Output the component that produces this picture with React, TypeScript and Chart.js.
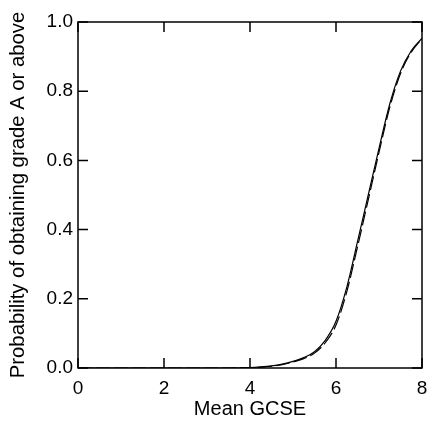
import React, { useEffect, useRef } from "react";
import { Chart, registerables } from "chart.js";

Chart.register(...registerables);

const xValues = [0, 1, 2, 3, 3.5, 4, 4.25, 4.5, 4.75, 5, 5.25, 5.5, 5.75, 6, 6.25, 6.5, 6.75, 7, 7.25, 7.5, 7.75, 8];
const solidSeries = [0, 0, 0, 0, 0, 0.001, 0.003, 0.006, 0.011, 0.019, 0.03, 0.047, 0.08, 0.135, 0.233, 0.365, 0.5, 0.635, 0.763, 0.858, 0.917, 0.953];
const dashedSeries = [0, 0, 0, 0, 0, 0.001, 0.002, 0.005, 0.01, 0.017, 0.027, 0.043, 0.073, 0.124, 0.22, 0.35, 0.486, 0.623, 0.753, 0.851, 0.913, 0.952];
const xTicks = [0, 2, 4, 6, 8];
const yTicks = [0, 0.2, 0.4, 0.6, 0.8, 1.0];
const xTitle = "Mean GCSE";
const yTitle = "Probability of obtaining grade A or above";

const FONT = "'Liberation Sans', Arial, Helvetica, sans-serif";

const frameTicks = {
  id: "frameTicks",
  afterDatasetsDraw(chart: any) {
    const { ctx, chartArea: a, scales } = chart;
    const xs = scales.x;
    const ys = scales.y;
    const len = 10;
    ctx.save();
    ctx.strokeStyle = "#000";
    ctx.lineWidth = 1.5;
    ctx.strokeRect(a.left, a.top, a.right - a.left, a.bottom - a.top);
    ctx.beginPath();
    xTicks.forEach((v) => {
      const p = xs.getPixelForValue(v);
      ctx.moveTo(p, a.bottom);
      ctx.lineTo(p, a.bottom - len);
      ctx.moveTo(p, a.top);
      ctx.lineTo(p, a.top + len);
    });
    yTicks.forEach((v) => {
      const p = ys.getPixelForValue(v);
      ctx.moveTo(a.left, p);
      ctx.lineTo(a.left + len, p);
      ctx.moveTo(a.right, p);
      ctx.lineTo(a.right - len, p);
    });
    ctx.stroke();
    ctx.restore();
  },
};

export default function App() {
  const ref = useRef<HTMLCanvasElement>(null);
  useEffect(() => {
    if (!ref.current) return;
    const chart = new Chart(ref.current, {
      type: "line",
      data: {
        datasets: [
          {
            data: xValues.map((x, i) => ({ x, y: solidSeries[i] })),
            borderColor: "#000",
            borderWidth: 1.2,
            pointRadius: 0,
            cubicInterpolationMode: "monotone",
            fill: false,
          },
          {
            data: xValues.map((x, i) => ({ x, y: dashedSeries[i] })),
            borderColor: "#000",
            borderWidth: 1.2,
            borderDash: [14, 4],
            pointRadius: 0,
            cubicInterpolationMode: "monotone",
            fill: false,
          },
        ],
      },
      options: {
        responsive: false,
        animation: false,
        layout: { padding: { top: 22, right: 8, left: 0, bottom: 0 } },
        plugins: { legend: { display: false }, tooltip: { enabled: false } },
        scales: {
          x: {
            type: "linear",
            min: 0,
            max: 8,
            afterBuildTicks: (s: any) => {
              s.ticks = xTicks.map((v) => ({ value: v }));
            },
            afterFit: (s: any) => {
              s.height = 57;
              s.paddingLeft = 0;
              s.paddingRight = 0;
            },
            grid: { display: false, drawTicks: false },
            border: { display: false },
            ticks: {
              color: "#000",
              font: { family: FONT, size: 19 },
              padding: 9,
              maxRotation: 0,
              callback: (v: any) => String(v),
            },
            title: {
              display: true,
              text: xTitle,
              color: "#000",
              font: { family: FONT, size: 20 },
              padding: { top: 0, bottom: 4 },
            },
          },
          y: {
            type: "linear",
            min: 0,
            max: 1,
            afterBuildTicks: (s: any) => {
              s.ticks = yTicks.map((v) => ({ value: v }));
            },
            afterFit: (s: any) => {
              s.width = 78;
              s.paddingTop = 0;
              s.paddingBottom = 0;
            },
            grid: { display: false, drawTicks: false },
            border: { display: false },
            ticks: {
              color: "#000",
              font: { family: FONT, size: 19 },
              padding: 5,
              callback: (v: any) => Number(v).toFixed(1),
            },
            title: {
              display: true,
              text: yTitle,
              color: "#000",
              font: { family: FONT, size: 20.3 },
              padding: { top: 6, bottom: 0 },
            },
          },
        },
      },
      plugins: [frameTicks],
    });
    return () => chart.destroy();
  }, []);
  return (
    <div style={{ position: "absolute", left: 0, top: 0, width: 430, height: 425, background: "#fff" }}>
      <canvas ref={ref} width={430} height={425} />
    </div>
  );
}
